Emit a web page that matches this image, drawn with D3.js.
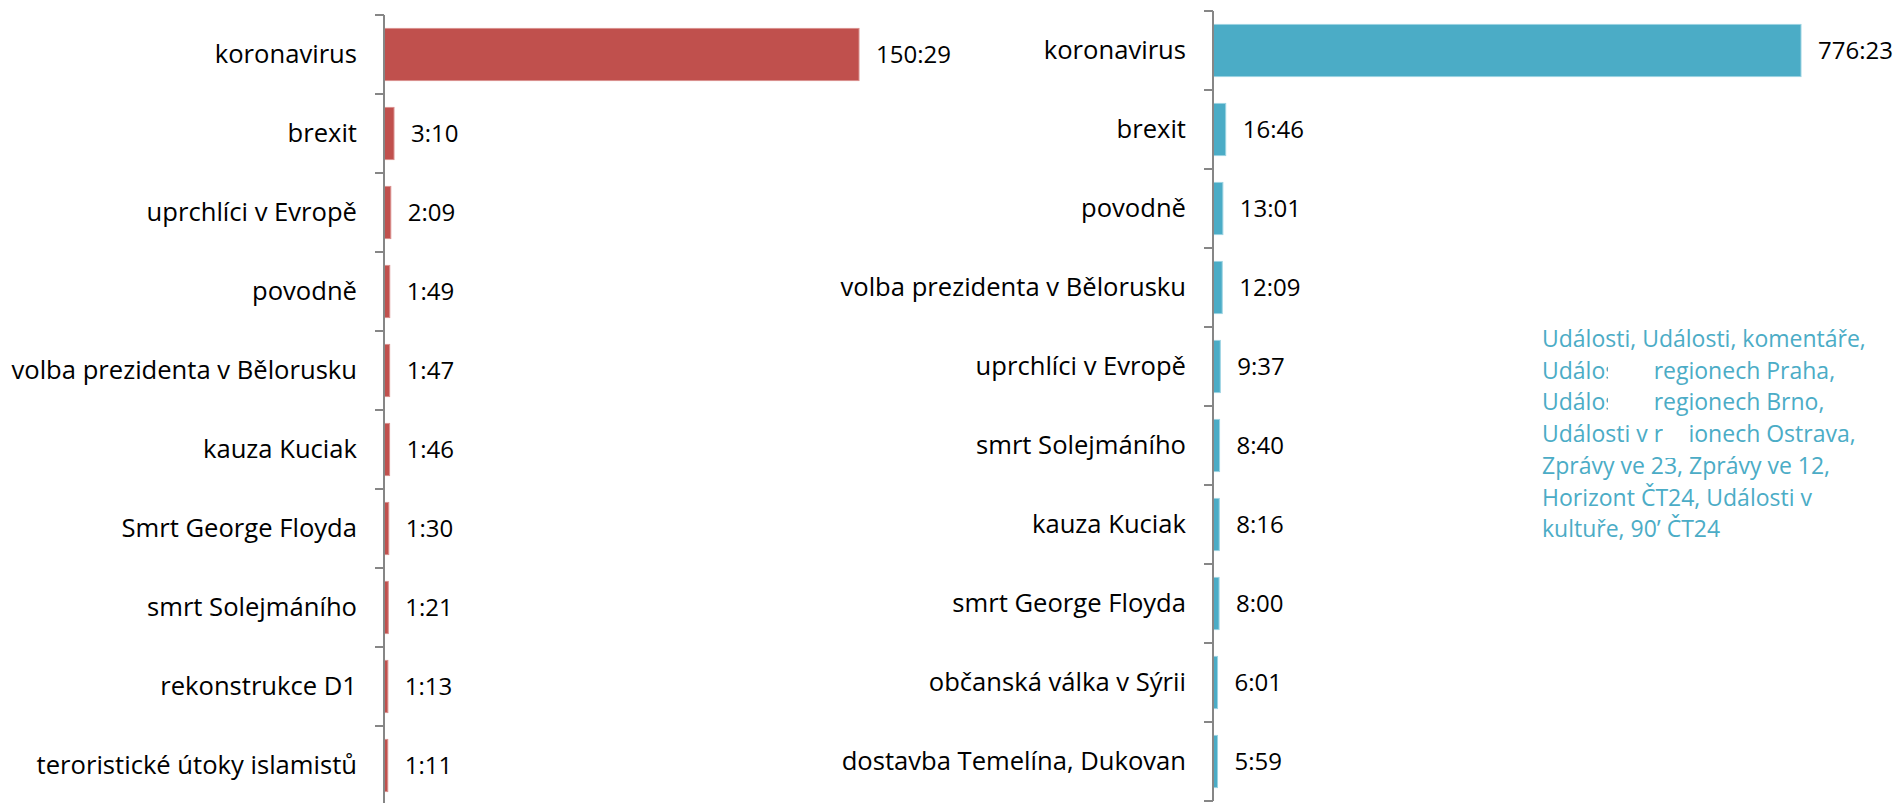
<!DOCTYPE html>
<html>
<head>
<meta charset="utf-8">
<script src="https://cdn.jsdelivr.net/npm/d3@7"></script>
<style>
  body { margin: 0; background: #fff; }
  svg { display: block; font-family: "Open Sans", sans-serif; }
  .cat { font-size: 25.6px; fill: #000; }
  .val { font-size: 24px; fill: #000; }
  .note { font-size: 23px; fill: #4BACC6; }
</style>
</head>
<body>
<svg width="1893" height="803"></svg>
<script>
// left chart: hours:minutes
var leftCategories = ["koronavirus", "brexit", "uprchlíci v Evropě", "povodně", "volba prezidenta v Bělorusku",
    "kauza Kuciak", "Smrt George Floyda", "smrt Solejmáního", "rekonstrukce D1", "teroristické útoky islamistů"];
var leftValues = ["150:29", "3:10", "2:09", "1:49", "1:47", "1:46", "1:30", "1:21", "1:13", "1:11"];

// right chart
var rightCategories = ["koronavirus", "brexit", "povodně", "volba prezidenta v Bělorusku", "uprchlíci v Evropě",
    "smrt Solejmáního", "kauza Kuciak", "smrt George Floyda", "občanská válka v Sýrii", "dostavba Temelína, Dukovan"];
var rightValues = ["776:23", "16:46", "13:01", "12:09", "9:37", "8:40", "8:16", "8:00", "6:01", "5:59"];

var noteLines = ["Události, Události, komentáře,", "Události v regionech Praha,", "Události v regionech Brno,",
    "Události v regionech Ostrava,", "Zprávy ve 23, Zprávy ve 12,", "Horizont ČT24, Události v", "kultuře, 90’ ČT24"];

function toMinutes(s) {
    var p = s.split(":");
    return +p[0] * 60 + +p[1];
}

var svg = d3.select("svg");

function drawChart(cfg) {
    var data = cfg.categories.map(function(c, i) {
        return { name: c, label: cfg.values[i], minutes: toMinutes(cfg.values[i]) };
    });

    var y = d3.scaleBand()
        .domain(cfg.categories)
        .range([cfg.top, cfg.top + 790])
        .paddingInner(0.34)
        .paddingOuter(0.17);

    var x = d3.scaleLinear()
        .domain([0, d3.max(data, function(d) { return d.minutes; })])
        .range([0, cfg.width]);

    var g = svg.append("g").attr("transform", "translate(" + cfg.left + ",0)");

    g.selectAll(".bar")
        .data(data)
        .enter().append("rect")
        .attr("class", "bar")
        .attr("x", 0)
        .attr("y", function(d) { return y(d.name); })
        .attr("width", function(d) { return x(d.minutes); })
        .attr("height", y.bandwidth())
        .attr("fill", cfg.color)
        .attr("stroke", cfg.edge)
        .attr("stroke-width", 1);

    // axis line and ticks at band boundaries
    var half = y.step() * y.paddingInner() / 2;
    var bounds = cfg.categories.map(function(c) { return y(c) - half; });
    bounds.push(y(cfg.categories[cfg.categories.length - 1]) + y.bandwidth() + half);

    g.append("line")
        .attr("x1", 0).attr("x2", 0)
        .attr("y1", bounds[0]).attr("y2", bounds[bounds.length - 1])
        .attr("stroke", "#868686")
        .attr("stroke-width", 2);

    g.selectAll(".tick")
        .data(bounds)
        .enter().append("line")
        .attr("class", "tick")
        .attr("x1", -9).attr("x2", 0)
        .attr("y1", function(d) { return d; })
        .attr("y2", function(d) { return d; })
        .attr("stroke", "#868686")
        .attr("stroke-width", 2);

    g.selectAll(".cat")
        .data(data)
        .enter().append("text")
        .attr("class", "cat")
        .attr("x", -27)
        .attr("y", function(d) { return y(d.name) + y.bandwidth() / 2; })
        .attr("dy", "0.35em")
        .attr("text-anchor", "end")
        .text(function(d) { return d.name; });

    g.selectAll(".val")
        .data(data)
        .enter().append("text")
        .attr("class", "val")
        .attr("x", function(d) { return x(d.minutes) + 17; })
        .attr("y", function(d) { return y(d.name) + y.bandwidth() / 2; })
        .attr("dy", "0.35em")
        .text(function(d) { return d.label; });
}

drawChart({ categories: leftCategories, values: leftValues, left: 384, top: 15, width: 475,
    color: "#C0504D", edge: "#D9908E" });
drawChart({ categories: rightCategories, values: rightValues, left: 1213, top: 11, width: 588,
    color: "#4BACC6", edge: "#9BD3E2" });

// programme note
var note = svg.append("text").attr("class", "note");
note.selectAll("tspan")
    .data(noteLines)
    .enter().append("tspan")
    .attr("x", 1542)
    .attr("y", function(d, i) { return 347 + i * 31.7; })
    .text(function(d) { return d; });

// white shapes covering part of the note, as in the original
svg.append("rect").attr("x", 1608).attr("y", 354).attr("width", 46).attr("height", 64).attr("fill", "#fff");
svg.append("rect").attr("x", 1663).attr("y", 418).attr("width", 27).attr("height", 40).attr("fill", "#fff");
</script>
</body>
</html>
